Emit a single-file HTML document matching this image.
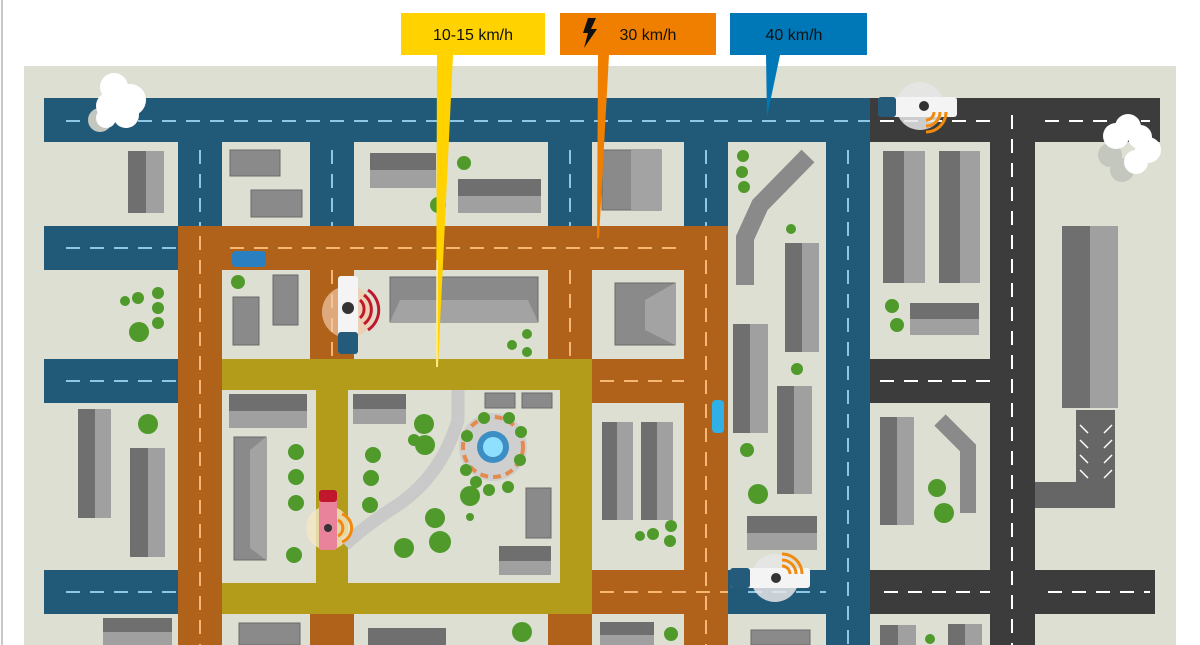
<!DOCTYPE html>
<html><head><meta charset="utf-8"><style>
html,body{margin:0;padding:0;background:#fff;}
svg{display:block}
text{font-family:"Liberation Sans",sans-serif;}
</style></head><body>
<svg width="1200" height="645" viewBox="0 0 1200 645" xmlns="http://www.w3.org/2000/svg">
<rect x="0" y="0" width="1200" height="645" fill="#fff"/>
<rect x="1" y="0" width="2" height="645" fill="#c8c8c8"/>
<rect x="24" y="66" width="1152" height="579" fill="#dcdfd2"/>

<g fill="#215a78">
<rect x="44" y="98" width="826" height="44"/>
<rect x="178" y="142" width="44" height="84"/>
<rect x="310" y="142" width="44" height="84"/>
<rect x="548" y="142" width="44" height="84"/>
<rect x="684" y="142" width="44" height="84"/>
<rect x="826" y="142" width="44" height="503"/>
<rect x="44" y="226" width="134" height="44"/>
<rect x="44" y="359" width="134" height="44"/>
<rect x="44" y="570" width="134" height="44"/>
<rect x="728" y="570" width="98" height="44"/>
</g>
<g fill="#3c3c3c">
<rect x="870" y="98" width="290" height="44"/>
<rect x="990" y="142" width="45" height="503"/>
<rect x="870" y="359" width="120" height="44"/>
<rect x="870" y="570" width="285" height="44"/>
<rect x="1076" y="410" width="39" height="98" fill="#666"/>
<rect x="1035" y="482" width="45" height="26" fill="#666"/>
</g>
<g stroke="#fff" stroke-width="1.5">
<line x1="1080" y1="425" x2="1088" y2="433"/><line x1="1080" y1="440" x2="1088" y2="448"/><line x1="1080" y1="455" x2="1088" y2="463"/><line x1="1080" y1="470" x2="1088" y2="478"/>
<line x1="1112" y1="425" x2="1104" y2="433"/><line x1="1112" y1="440" x2="1104" y2="448"/><line x1="1112" y1="455" x2="1104" y2="463"/><line x1="1112" y1="470" x2="1104" y2="478"/>
</g>
<g fill="#b0621a">
<rect x="178" y="226" width="550" height="44"/>
<rect x="178" y="270" width="44" height="375"/>
<rect x="684" y="270" width="44" height="375"/>
<rect x="310" y="270" width="44" height="89"/>
<rect x="548" y="270" width="44" height="89"/>
<rect x="592" y="359" width="92" height="44"/>
<rect x="592" y="570" width="92" height="44"/>
<rect x="310" y="614" width="44" height="31"/>
<rect x="548" y="614" width="44" height="31"/>
</g>
<g fill="#b39c1a">
<rect x="222" y="359" width="370" height="31"/>
<rect x="222" y="583" width="370" height="31"/>
<rect x="560" y="359" width="32" height="255"/>
<rect x="316" y="390" width="32" height="193"/>
</g>

<g stroke-width="2" stroke-dasharray="14,10" fill="none">
<line x1="66" y1="121" x2="870" y2="121" stroke="#8fc6e6"/>
<line x1="66" y1="248" x2="178" y2="248" stroke="#8fc6e6"/>
<line x1="66" y1="381" x2="178" y2="381" stroke="#8fc6e6"/>
<line x1="66" y1="592" x2="178" y2="592" stroke="#8fc6e6"/>
<line x1="748" y1="592" x2="826" y2="592" stroke="#8fc6e6"/>
<line x1="848" y1="150" x2="848" y2="645" stroke="#8fc6e6"/>
<line x1="200" y1="150" x2="200" y2="226" stroke="#8fc6e6"/>
<line x1="332" y1="150" x2="332" y2="226" stroke="#8fc6e6"/>
<line x1="706" y1="150" x2="706" y2="226" stroke="#8fc6e6"/>
<line x1="570" y1="150" x2="570" y2="226" stroke="#8fc6e6"/>
<line x1="230" y1="248" x2="684" y2="248" stroke="#f6b774"/>
<line x1="200" y1="236" x2="200" y2="645" stroke="#f6b774"/>
<line x1="706" y1="236" x2="706" y2="645" stroke="#f6b774"/>
<line x1="332" y1="270" x2="332" y2="359" stroke="#f6b774"/>
<line x1="570" y1="270" x2="570" y2="359" stroke="#f6b774"/>
<line x1="600" y1="381" x2="684" y2="381" stroke="#f6b774"/>
<line x1="600" y1="592" x2="728" y2="592" stroke="#f6b774"/>
<line x1="880" y1="121" x2="990" y2="121" stroke="#fff"/>
<line x1="1045" y1="121" x2="1150" y2="121" stroke="#fff"/>
<line x1="1012" y1="115" x2="1012" y2="645" stroke="#fff"/>
<line x1="880" y1="381" x2="990" y2="381" stroke="#fff"/>
<line x1="884" y1="592" x2="990" y2="592" stroke="#fff"/>
<line x1="1048" y1="592" x2="1150" y2="592" stroke="#fff"/>
</g>

<path d="M458 390 L458 420 Q440 480 390 510 Q360 530 345 545" stroke="#c9c9c9" stroke-width="13" fill="none"/>

<g fill="#6f6f6f">
<rect x="128" y="151" width="18" height="62"/><rect x="78" y="409" width="17" height="109"/><rect x="130" y="448" width="18" height="109"/>
<rect x="785" y="243" width="17" height="109"/><rect x="883" y="151" width="21" height="132"/><rect x="939" y="151" width="21" height="132"/>
<rect x="1062" y="226" width="28" height="182"/><rect x="733" y="324" width="17" height="109"/><rect x="777" y="386" width="17" height="108"/>
<rect x="602" y="422" width="15" height="98"/><rect x="641" y="422" width="16" height="98"/><rect x="880" y="417" width="17" height="108"/>
<rect x="880" y="625" width="18" height="20"/><rect x="948" y="624" width="17" height="21"/>
</g>
<g fill="#a0a0a0">
<rect x="146" y="151" width="18" height="62"/><rect x="95" y="409" width="16" height="109"/><rect x="148" y="448" width="17" height="109"/>
<rect x="802" y="243" width="17" height="109"/><rect x="904" y="151" width="21" height="132"/><rect x="960" y="151" width="20" height="132"/>
<rect x="1090" y="226" width="28" height="182"/><rect x="750" y="324" width="18" height="109"/><rect x="794" y="386" width="18" height="108"/>
<rect x="617" y="422" width="16" height="98"/><rect x="657" y="422" width="16" height="98"/><rect x="897" y="417" width="17" height="108"/>
<rect x="898" y="625" width="18" height="20"/><rect x="965" y="624" width="17" height="21"/>
</g>
<g fill="#6f6f6f">
<rect x="370" y="153" width="66" height="17"/><rect x="458" y="179" width="83" height="17"/><rect x="910" y="303" width="69" height="16"/>
<rect x="747" y="516" width="70" height="17"/><rect x="229" y="394" width="78" height="17"/><rect x="353" y="394" width="53" height="15"/>
<rect x="499" y="546" width="52" height="15"/><rect x="103" y="618" width="69" height="14"/><rect x="368" y="628" width="78" height="17"/><rect x="600" y="622" width="54" height="13"/>
</g>
<g fill="#a0a0a0">
<rect x="370" y="170" width="66" height="18"/><rect x="458" y="196" width="83" height="17"/><rect x="910" y="319" width="69" height="16"/>
<rect x="747" y="533" width="70" height="17"/><rect x="229" y="411" width="78" height="17"/><rect x="353" y="409" width="53" height="15"/>
<rect x="499" y="561" width="52" height="14"/><rect x="103" y="632" width="69" height="13"/><rect x="600" y="635" width="54" height="10"/>
</g>
<g fill="#8a8a8a" stroke="#6a6a6a" stroke-width="1">
<rect x="230" y="150" width="50" height="26"/><rect x="251" y="190" width="51" height="27"/><rect x="390" y="277" width="148" height="45"/>
<rect x="233" y="297" width="26" height="48"/><rect x="273" y="275" width="25" height="50"/><rect x="602" y="150" width="59" height="60"/>
<rect x="615" y="283" width="60" height="62"/><rect x="234" y="437" width="32" height="123"/><rect x="526" y="488" width="25" height="50"/>
<rect x="485" y="393" width="30" height="15"/><rect x="522" y="393" width="30" height="15"/><rect x="239" y="623" width="61" height="22"/><rect x="751" y="630" width="59" height="15"/>
</g>
<g fill="#a3a3a3">
<polygon points="400,300 528,300 538,322 390,322"/>
<polygon points="631,150 661,150 661,210 631,210"/>
<polygon points="645,300 675,283 675,345 645,330"/>
<polygon points="250,450 266,437 266,560 250,548"/>
</g>
<polyline points="808,156 760,205 745,238 745,285" stroke="#8a8a8a" stroke-width="18" fill="none"/>
<polyline points="940,420 968,448 968,513" stroke="#8a8a8a" stroke-width="16" fill="none"/>

<circle cx="493" cy="447" r="34" fill="#cfcfcf"/>
<circle cx="493" cy="447" r="30" fill="none" stroke="#e38b4f" stroke-width="4" stroke-dasharray="8,5"/>
<circle cx="493" cy="447" r="16" fill="#3c8ec4"/>
<circle cx="493" cy="447" r="10" fill="#8fe0ff"/>

<g fill="#4f9a2a">
<circle cx="139" cy="332" r="10"/><circle cx="125" cy="301" r="5"/><circle cx="138" cy="298" r="6"/><circle cx="158" cy="293" r="6"/><circle cx="158" cy="308" r="6"/><circle cx="158" cy="323" r="6"/>
<circle cx="148" cy="424" r="10"/><circle cx="238" cy="282" r="7"/><circle cx="438" cy="205" r="8"/><circle cx="464" cy="163" r="7"/>
<circle cx="512" cy="345" r="5"/><circle cx="527" cy="334" r="5"/><circle cx="527" cy="352" r="5"/>
<circle cx="296" cy="452" r="8"/><circle cx="296" cy="477" r="8"/><circle cx="296" cy="503" r="8"/><circle cx="294" cy="555" r="8"/>
<circle cx="373" cy="455" r="8"/><circle cx="371" cy="478" r="8"/><circle cx="370" cy="505" r="8"/>
<circle cx="424" cy="424" r="10"/><circle cx="425" cy="445" r="10"/><circle cx="414" cy="440" r="6"/><circle cx="470" cy="496" r="10"/><circle cx="466" cy="470" r="6"/>
<circle cx="435" cy="518" r="10"/><circle cx="440" cy="542" r="11"/><circle cx="404" cy="548" r="10"/>
<circle cx="467" cy="436" r="6"/><circle cx="484" cy="418" r="6"/><circle cx="509" cy="418" r="6"/><circle cx="521" cy="432" r="6"/><circle cx="520" cy="460" r="6"/><circle cx="508" cy="487" r="6"/><circle cx="476" cy="482" r="6"/><circle cx="489" cy="490" r="6"/><circle cx="470" cy="517" r="4"/>
<circle cx="743" cy="156" r="6"/><circle cx="742" cy="172" r="6"/><circle cx="744" cy="187" r="6"/><circle cx="791" cy="229" r="5"/>
<circle cx="797" cy="369" r="6"/><circle cx="747" cy="450" r="7"/><circle cx="758" cy="494" r="10"/><circle cx="892" cy="306" r="7"/><circle cx="897" cy="325" r="7"/>
<circle cx="937" cy="488" r="9"/><circle cx="944" cy="513" r="10"/><circle cx="671" cy="526" r="6"/><circle cx="653" cy="534" r="6"/><circle cx="670" cy="541" r="6"/><circle cx="640" cy="536" r="5"/>
<circle cx="671" cy="634" r="7"/><circle cx="522" cy="632" r="10"/><circle cx="930" cy="639" r="5"/>
</g>

<circle cx="348" cy="312" r="26" fill="#f2c9a8" opacity="0.7"/>
<rect x="338" y="276" width="20" height="78" rx="3" fill="#f4f4f4"/>
<rect x="338" y="332" width="20" height="22" rx="3" fill="#245a7a"/>
<circle cx="348" cy="308" r="6" fill="#333"/>
<path d="M360 300 A12 12 0 0 1 360 318 M364 295 A18 18 0 0 1 364 324 M368 290 A24 24 0 0 1 368 330" stroke="#c0172d" stroke-width="3" fill="none"/>

<circle cx="920" cy="106" r="24" fill="#e6e6e6" opacity="0.85"/>
<rect x="880" y="97" width="77" height="20" rx="3" fill="#f4f4f4"/>
<rect x="878" y="97" width="18" height="20" rx="3" fill="#245a7a"/>
<circle cx="924" cy="106" r="5" fill="#333"/>
<path d="M926 120 A8 8 0 0 0 934 112 M926 126 A14 14 0 0 0 940 112 M926 132 A20 20 0 0 0 946 112" stroke="#f08a10" stroke-width="3" fill="none"/>

<circle cx="775" cy="578" r="24" fill="#e6e6e6" opacity="0.85"/>
<rect x="730" y="568" width="80" height="20" rx="3" fill="#f4f4f4"/>
<rect x="730" y="568" width="20" height="20" rx="3" fill="#245a7a"/>
<circle cx="776" cy="578" r="5" fill="#333"/>
<path d="M782 566 A8 8 0 0 1 790 574 M782 560 A14 14 0 0 1 796 574 M782 554 A20 20 0 0 1 802 574" stroke="#f08a10" stroke-width="3" fill="none"/>

<circle cx="328" cy="528" r="22" fill="#f4e6c4" opacity="0.8"/>
<rect x="319" y="492" width="18" height="58" rx="3" fill="#e9829b"/>
<rect x="319" y="490" width="18" height="12" rx="3" fill="#c0172d"/>
<circle cx="328" cy="528" r="4" fill="#333"/>
<path d="M338 520 A9 9 0 0 1 338 536 M342 514 A15 15 0 0 1 342 542" stroke="#f08a10" stroke-width="3" fill="none"/>

<rect x="232" y="251" width="34" height="16" rx="4" fill="#2a7fc1"/>
<rect x="712" y="400" width="12" height="33" rx="4" fill="#2fb0e6"/>

<g fill="#c4c7bd">
<circle cx="100" cy="120" r="12"/><circle cx="1110" cy="155" r="12"/><circle cx="1122" cy="170" r="12"/>
</g>
<g fill="#fff">
<circle cx="114" cy="87" r="14"/><circle cx="130" cy="100" r="16"/><circle cx="110" cy="106" r="14"/><circle cx="126" cy="115" r="13"/><circle cx="106" cy="118" r="10"/>
<circle cx="1128" cy="127" r="13"/><circle cx="1116" cy="136" r="13"/><circle cx="1140" cy="137" r="12"/><circle cx="1148" cy="150" r="13"/><circle cx="1136" cy="162" r="12"/>
</g>

<rect x="401" y="13" width="144" height="42" fill="#ffd200"/>
<polygon points="437,55 453,55 438,367 436,367" fill="#ffd200"/>
<line x1="437" y1="260" x2="437" y2="367" stroke="#fff" stroke-width="1"/>
<text x="473" y="40" font-size="16" text-anchor="middle" fill="#111">10-15 km/h</text>

<rect x="560" y="13" width="156" height="42" fill="#f07f00"/>
<polygon points="598,55 609,55 599,238 597,238" fill="#f07f00"/>
<polygon points="588,18 596,18 591,29 597,29 584,48 588,33 583,33" fill="#111"/>
<text x="648" y="40" font-size="16" text-anchor="middle" fill="#111">30 km/h</text>

<rect x="730" y="13" width="137" height="42" fill="#0077b6"/>
<polygon points="766,55 780,55 767,117" fill="#0077b6"/>
<text x="794" y="40" font-size="16" text-anchor="middle" fill="#111">40 km/h</text>
</svg>
</body></html>
